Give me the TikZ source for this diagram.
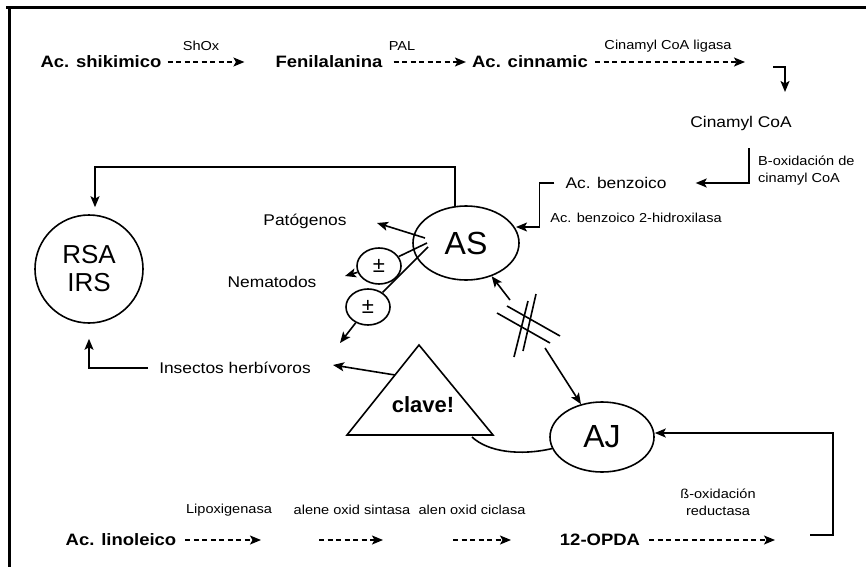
\documentclass[tikz,border=0pt]{standalone}
\usepackage{fontspec}
\setmainfont{Liberation Sans}[FakeStretch=1.12]
\newfontfamily\bigsans{Liberation Sans}
\usetikzlibrary{arrows.meta,calc,shapes.geometric}
\tikzset{
  every node/.style={inner sep=1pt},
  conn/.style={line width=1.6pt},
  arr/.style={conn,-{Stealth[length=11pt,width=9pt,inset=2.5pt]}},
  dasharr/.style={line width=1.5pt,dash pattern=on 5pt off 3.5pt,-{Stealth[length=11pt,width=9pt,inset=2.5pt]}},
  labB/.style={font=\fontsize{16.5}{18}\selectfont\bfseries},
  labM/.style={font=\fontsize{15.5}{18}\selectfont},
  labS/.style={font=\fontsize{13}{17}\selectfont},
  ell/.style={draw,ellipse,conn,inner sep=0pt,font=\bigsans\fontsize{32}{34}\selectfont},
  pm/.style={draw,ellipse,conn,inner sep=0pt,minimum width=44pt,minimum height=36pt,font=\bigsans\fontsize{22}{24}\selectfont},
}
\begin{document}
\begin{tikzpicture}[x=1pt,y=-1pt]
\useasboundingbox (0,0) rectangle (866,567);
% frame
\draw[line width=3pt] (6,8) -- (866,8);
\draw[line width=3pt] (9,8) -- (9,567);

% top row
\node[labB] (shik) at (101,62) {Ac. shikimico};
\node[labB] (fen) at (329,62) {Fenilalanina};
\node[labB] (cin) at (530,62) {Ac. cinnamic};
\node[labS] (lshox) at (201,46) {ShOx};
\node[labS] (lpal) at (402,46) {PAL};
\node[labS] (lcl) at (668,46) {Cinamyl CoA ligasa};
\coordinate (c3e) at (745,62);
\draw[dasharr, shorten <=5pt, shorten >=30pt] (shik) -- (fen);
\draw[dasharr, shorten <=10pt, shorten >=5pt] (fen) -- (cin);
\draw[dasharr, shorten <=6pt] (cin) -- (c3e);
\coordinate (b1) at (773,67);
\coordinate (b2) at (785,92);
\draw[arr] (b1) -| (b2);

% cinamyl / benzoico
\node[labM] (cinco) at (741,123) {Cinamyl CoA};
\node[labS, align=left, anchor=west] (boxi) at (757,171) {B-oxidación de\\cinamyl CoA};
\node[labM] (benz) at (616,183) {Ac. benzoico};
\coordinate (k1) at (749,148);
\draw[arr] (k1) |- ($(benz.east)+(28,0)$);
\node[labS] (hidr) at (636,218) {Ac. benzoico 2-hidroxilasa};

% AS
\node[ell, minimum width=106pt, minimum height=74pt] (AS) at (466,243) {AS};
\coordinate (asNE) at (516,227);
\draw[arr] ($(benz.west)+(-10,0)$) -- ++(-15,0) |- (asNE);

% RSA IRS
\node[draw, circle, conn, minimum size=108pt, inner sep=0pt, align=center,
      font=\bigsans\fontsize{26}{28}\selectfont] (rsa) at (89,269) {RSA\\IRS};
\coordinate (asTop) at (455,207);
\draw[arr, shorten >=7pt] (asTop) -- ++(0,-40) -| ($(rsa.north)+(6,0)$);

% targets
\node[labM] (pat) at (305,221) {Patógenos};
\node[labM] (nem) at (272,282) {Nematodos};
\node[labM] (ins) at (235,368) {Insectos herbívoros};
\node[pm] (pm1) at (379,266) {±};
\node[pm] (pm2) at (368,307) {±};
\coordinate (o1) at (425,238);
\coordinate (o2) at (427,243);
\coordinate (o3) at (428,247);
\coordinate (tPat) at (377,223);
\coordinate (tNem) at (345,276);
\coordinate (tIns1) at (340,343);
\coordinate (tIns2) at (333,365);
\draw[arr] (o1) -- (tPat);
\draw[conn] (o2) -- (pm1);
\draw[arr] (pm1) -- (tNem);
\draw[conn] (o3) -- (pm2);
\draw[arr] (pm2) -- (tIns1);
\draw[arr, shorten >=15pt] ($(ins.west)+(-10,0)$) -| (rsa.south);

% triangle
\coordinate (triA) at (419,345);
\coordinate (triL) at (347,435);
\coordinate (triR) at (493,435);
\draw[conn, line join=miter] (triA) -- (triL) -- (triR) -- cycle;
\node[font=\bigsans\bfseries\fontsize{22}{24}\selectfont] (clave) at (423,405) {clave!};
\coordinate (triS) at (395,375);
\draw[arr] (triS) -- (tIns2);

% AJ
\node[ell, minimum width=104pt, minimum height=70pt] (AJ) at (602,437) {AJ};
\coordinate (cv1) at (472,437);
\draw[conn] (cv1) .. controls (488,452) and (520,456) .. (AJ);
\coordinate (h1) at (510,300);
\coordinate (h2) at (545,348);
\draw[arr] (h1) -- (AS);
\draw[arr] (h2) -- (AJ);
% hash mark
\draw[conn] (497,313) -- (550,343);
\draw[conn] (507,306) -- (560,336);
\draw[conn] (514,357) -- (528,301);
\draw[conn] (523,351) -- (536,294);

\coordinate (r1) at (810,535);
\draw[arr] (r1) -- ++(23,0) |- ([yshift=4pt]AJ.east);

% bottom row
\node[labB] (lin) at (121,540) {Ac. linoleico};
\node[labB] (opda) at (600,540) {12-OPDA};
\coordinate (d1e) at (261,540);
\coordinate (d2s) at (319,540);
\coordinate (d2e) at (383,540);
\coordinate (d3s) at (453,540);
\coordinate (d3e) at (511,540);
\coordinate (d4e) at (775,540);
\draw[dasharr, shorten <=8pt] (lin) -- (d1e);
\draw[dasharr] (d2s) -- (d2e);
\draw[dasharr] (d3s) -- (d3e);
\draw[dasharr, shorten <=8pt] (opda) -- (d4e);
\node[labS] (llip) at (229,510) {Lipoxigenasa};
\node[labS] (lals) at (352,510) {alene oxid sintasa};
\node[labS] (lalc) at (472,510) {alen oxid ciclasa};
\node[labS, align=center] (lbox) at (718,502) {ß-oxidación\\reductasa};
\end{tikzpicture}
\end{document}
